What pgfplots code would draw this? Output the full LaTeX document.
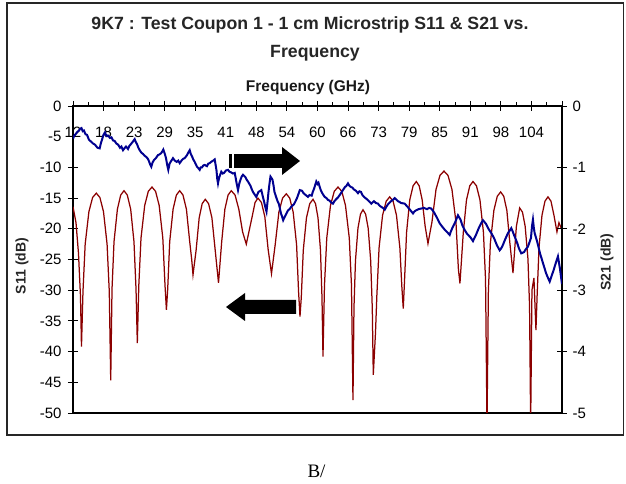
\documentclass[border=0pt]{standalone}
\usepackage{pgfplots}
\pgfplotsset{compat=1.18}
\usepackage{fontspec}
\setmainfont{Liberation Sans}
\newfontfamily\timesfont{Liberation Serif}
\definecolor{sred}{HTML}{8B0000}
\definecolor{sblue}{HTML}{000090}
\pgfplotstableread{
f v
12.00 -16.4
12.60 -19.0
13.10 -24.0
13.50 -31.0
13.70 -39.2
14.00 -30.2
14.44 -22.5
15.19 -17.2
15.93 -14.9
16.67 -14.2
17.39 -14.9
18.11 -17.2
18.83 -22.5
19.27 -30.2
19.56 -44.7
19.82 -29.8
20.22 -22.1
20.90 -16.8
21.56 -14.5
22.22 -13.8
22.88 -14.5
23.56 -16.8
24.22 -22.1
24.63 -29.8
24.89 -38.6
25.19 -29.2
25.63 -21.5
26.37 -16.2
27.09 -13.9
27.83 -13.2
28.55 -13.9
29.27 -16.2
30.00 -21.5
30.44 -29.2
30.72 -33.2
30.98 -29.8
31.38 -22.1
32.06 -16.8
32.72 -14.5
33.38 -13.8
34.04 -14.5
34.73 -16.8
35.39 -22.1
35.79 -25.0
36.05 -27.5
36.67 -23.5
37.29 -18.2
37.89 -15.9
38.51 -15.2
39.17 -15.9
39.84 -18.2
40.50 -23.5
41.16 -28.8
41.80 -22.1
42.44 -16.8
43.08 -14.5
43.72 -13.8
44.48 -14.5
45.23 -16.8
45.99 -20.5
46.73 -22.5
47.91 -18.0
48.49 -15.7
49.07 -15.0
49.76 -15.7
50.44 -18.0
51.10 -23.3
51.78 -27.3
52.52 -22.6
53.26 -17.3
54.00 -15.0
54.75 -14.3
55.43 -15.0
56.13 -17.3
56.81 -22.6
57.21 -30.3
57.49 -34.3
57.75 -31.2
58.15 -23.5
58.79 -18.2
59.45 -15.9
60.10 -15.2
60.60 -15.9
61.10 -18.2
61.60 -23.5
61.90 -31.2
62.10 -40.8
62.40 -29.2
62.86 -21.5
63.60 -16.2
64.36 -13.9
65.11 -13.2
65.87 -13.9
66.61 -16.2
67.37 -21.5
67.81 -29.2
68.11 -47.9
68.31 -32.9
68.61 -25.2
69.11 -19.9
69.62 -17.6
70.12 -16.9
70.64 -17.6
71.16 -19.9
71.66 -25.2
71.98 -32.9
72.18 -43.8
72.62 -37.0
72.90 -30.8
73.34 -23.1
74.04 -17.8
74.77 -15.5
75.47 -14.8
76.15 -15.5
76.83 -17.8
77.51 -23.1
77.91 -29.5
78.19 -33.0
78.45 -28.3
78.85 -20.6
79.49 -15.3
80.16 -13.0
80.80 -12.3
81.38 -13.0
81.98 -15.3
82.56 -19.5
83.14 -22.4
83.94 -18.9
84.75 -13.6
85.55 -11.3
86.35 -10.6
87.15 -11.3
87.95 -13.6
88.75 -18.9
89.24 -26.6
89.55 -28.9
90.22 -20.6
90.86 -15.3
91.52 -13.0
92.16 -12.3
92.86 -13.0
93.56 -15.3
94.26 -20.6
94.68 -28.3
94.97 -52.0
95.25 -30.0
95.65 -22.3
96.35 -17.0
97.03 -14.7
97.71 -14.0
98.33 -14.7
98.95 -17.0
99.55 -22.3
100.18 -27.2
100.86 -19.6
101.52 -16.6
102.08 -17.3
102.62 -19.6
103.18 -24.9
103.50 -32.6
103.72 -52.0
103.98 -30.0
104.38 -28.0
104.78 -36.5
105.02 -30.8
105.39 -23.1
105.99 -17.8
106.59 -15.5
107.19 -14.8
107.79 -15.5
108.39 -17.8
108.99 -20.5
109.39 -19.0
110.00 -20.2
}\sone
\pgfplotstableread{
f v
12.00 -0.53
12.30 -0.48
12.60 -0.45
12.90 -0.42
13.20 -0.40
13.45 -0.37
13.70 -0.36
13.95 -0.41
14.20 -0.40
14.50 -0.46
14.81 -0.47
15.20 -0.55
15.61 -0.58
16.00 -0.61
16.41 -0.63
16.90 -0.68
17.35 -0.69
17.60 -0.60
17.81 -0.55
18.10 -0.47
18.41 -0.43
18.70 -0.49
19.01 -0.48
19.41 -0.52
19.70 -0.51
20.02 -0.56
20.35 -0.57
20.68 -0.61
21.05 -0.63
21.42 -0.68
21.70 -0.66
22.02 -0.72
22.30 -0.69
22.62 -0.66
23.02 -0.70
23.30 -0.65
23.62 -0.62
24.00 -0.58
24.36 -0.54
24.60 -0.59
24.83 -0.62
25.10 -0.68
25.37 -0.72
25.70 -0.76
26.03 -0.78
26.35 -0.81
26.69 -0.83
27.00 -0.86
27.23 -0.90
27.45 -0.95
27.69 -0.99
27.95 -0.92
28.23 -0.88
28.60 -0.85
29.03 -0.80
29.30 -0.79
29.64 -0.77
29.90 -0.74
30.10 -0.71
30.40 -0.78
30.64 -0.85
30.90 -0.97
31.10 -1.04
31.35 -0.94
31.64 -0.90
32.04 -0.85
32.40 -0.89
32.78 -0.91
33.10 -0.89
33.38 -0.93
33.84 -0.88
34.10 -0.86
34.38 -0.85
34.85 -0.80
35.10 -0.76
35.39 -0.72
35.60 -0.78
35.85 -0.82
36.10 -0.87
36.39 -0.91
36.85 -0.99
37.10 -1.01
37.39 -1.04
37.60 -1.00
37.85 -1.00
38.10 -0.97
38.39 -0.96
38.85 -0.98
39.10 -0.94
39.39 -0.93
39.86 -0.90
40.10 -0.89
40.40 -0.87
40.60 -0.97
40.76 -1.05
40.90 -1.18
41.06 -1.26
41.20 -1.20
41.36 -1.15
41.72 -1.07
42.00 -1.10
42.26 -1.09
42.66 -1.05
43.06 -1.04
43.35 -1.07
43.66 -1.08
44.05 -1.10
44.41 -1.09
44.60 -1.17
44.77 -1.25
45.07 -1.37
45.30 -1.27
45.57 -1.20
45.80 -1.15
46.07 -1.12
46.57 -1.16
46.80 -1.20
47.07 -1.23
47.57 -1.30
47.80 -1.35
48.07 -1.40
48.40 -1.44
48.73 -1.48
49.17 -1.40
49.74 -1.37
50.00 -1.46
50.28 -1.55
50.55 -1.65
50.78 -1.72
51.00 -1.55
51.18 -1.40
51.40 -1.25
51.58 -1.15
51.98 -1.20
52.20 -1.30
52.38 -1.40
52.78 -1.50
53.00 -1.55
53.28 -1.60
53.68 -1.75
53.90 -1.80
54.12 -1.86
54.35 -1.82
54.59 -1.78
55.09 -1.70
55.40 -1.68
55.75 -1.64
56.29 -1.60
56.60 -1.55
56.89 -1.50
57.20 -1.43
57.45 -1.37
57.89 -1.38
58.20 -1.42
58.49 -1.44
59.09 -1.48
59.40 -1.45
59.84 -1.46
60.05 -1.40
60.30 -1.35
60.76 -1.23
61.00 -1.27
61.20 -1.25
61.45 -1.32
61.70 -1.38
62.10 -1.44
62.44 -1.48
62.80 -1.50
63.10 -1.53
63.40 -1.54
63.70 -1.57
64.10 -1.59
64.40 -1.55
64.71 -1.52
65.10 -1.49
65.45 -1.45
65.70 -1.42
66.01 -1.38
66.51 -1.32
66.80 -1.30
67.11 -1.26
67.40 -1.30
67.71 -1.32
68.00 -1.33
68.31 -1.36
68.70 -1.38
69.11 -1.42
69.40 -1.39
69.72 -1.40
70.00 -1.45
70.32 -1.48
70.92 -1.52
71.30 -1.55
71.78 -1.59
72.32 -1.55
72.70 -1.58
73.12 -1.59
73.40 -1.62
73.72 -1.64
74.10 -1.66
74.47 -1.69
74.80 -1.64
75.13 -1.60
75.73 -1.55
76.10 -1.53
76.47 -1.50
77.13 -1.55
77.40 -1.56
77.73 -1.58
78.47 -1.59
78.80 -1.62
79.13 -1.65
79.64 -1.70
80.14 -1.75
80.40 -1.72
80.74 -1.70
81.24 -1.68
81.80 -1.67
82.34 -1.66
82.94 -1.68
83.40 -1.66
83.80 -1.67
84.34 -1.73
84.95 -1.82
85.49 -1.91
85.95 -1.96
86.55 -2.02
87.05 -2.06
87.49 -2.10
87.70 -2.05
87.95 -2.00
88.55 -1.90
89.15 -1.78
89.66 -1.85
90.06 -1.95
90.50 -2.02
90.96 -2.08
91.66 -2.14
92.16 -2.20
92.45 -2.15
92.76 -2.10
93.36 -1.98
93.80 -1.91
94.16 -1.86
94.77 -1.92
95.27 -2.00
95.83 -2.07
96.37 -2.15
96.97 -2.27
97.51 -2.35
97.80 -2.32
98.07 -2.28
98.57 -2.18
99.17 -2.07
99.84 -1.99
100.10 -2.04
100.38 -2.10
100.98 -2.22
101.38 -2.32
101.84 -2.40
102.38 -2.38
102.78 -2.33
103.18 -2.29
103.78 -2.15
104.00 -1.95
104.18 -1.85
104.35 -1.98
104.52 -2.07
104.99 -2.20
105.30 -2.30
105.59 -2.40
105.90 -2.48
106.19 -2.56
106.50 -2.64
106.79 -2.72
107.20 -2.80
107.53 -2.86
107.99 -2.75
108.30 -2.68
108.59 -2.60
108.90 -2.52
109.19 -2.45
109.59 -2.65
110.00 -2.90
}\stwo
\begin{document}
\begin{tikzpicture}
\useasboundingbox (0bp,0bp) rectangle (626bp,484bp);
\draw[line width=1.3bp, black!85] (7bp,49bp) rectangle (623.5bp,481bp);
\begin{axis}[
  at={(73bp,71bp)}, anchor=south west,
  scale only axis, width=489bp, height=307bp,
  xmin=12, xmax=110, ymin=-50, ymax=0,
  axis line style={line width=1.1bp, black},
  tick style={black, line width=0.9bp},
  tick align=center,
  major tick length=10bp, minor tick length=3.5bp,
  minor tick style={yshift=1.75bp},
  xtick pos=right, xticklabel pos=right,
  ytick pos=left, yticklabel pos=left,
  xtick={12,18.125,24.25,30.375,36.5,42.625,48.75,54.875,61,67.125,73.25,79.375,85.5,91.625,97.75,103.875,110},
  xticklabels={12,18,23,29,35,41,48,54,60,66,73,79,85,91,98,104,{}},
  minor x tick num=1,
  ytick={-50,-45,-40,-35,-30,-25,-20,-15,-10,-5,0},
  yticklabels={-50,-45,-40,-35,-30,-25,-20,-15,-10,-5,0},
  tick label style={font=\fontsize{15bp}{18bp}\selectfont, black},
  xticklabel style={anchor=north, yshift=-23bp},
  yticklabel style={xshift=-3bp},
]
\addplot[sred, line width=1.25bp] table[x=f, y=v] {\sone};
\end{axis}
\begin{axis}[
  at={(73bp,71bp)}, anchor=south west,
  scale only axis, width=489bp, height=307bp,
  xmin=12, xmax=110, ymin=-5, ymax=0,
  axis x line=none, axis y line*=right,
  axis line style={line width=1.1bp, black},
  tick style={black, line width=0.9bp},
  tick align=center,
  major tick length=10bp,
  ytick={-5,-4,-3,-2,-1,0},
  yticklabels={-5,-4,-3,-2,-1,0},
  tick label style={font=\fontsize{15bp}{18bp}\selectfont, black},
  yticklabel style={xshift=2bp},
]
\addplot[sblue, line width=2bp] table[x=f, y=v] {\stwo};
\end{axis}
% block arrows
\fill[black] (229bp,316bp) rectangle (232bp,330bp);
\fill[black] (234bp,316bp) rectangle (283bp,330bp);
\fill[black] (282bp,309bp) -- (300bp,323bp) -- (282bp,337bp) -- cycle;
\fill[black] (226bp,177bp) -- (245bp,191bp) -- (245bp,184bp) -- (296bp,184bp) -- (296bp,170bp) -- (245bp,170bp) -- (245bp,163bp) -- cycle;
% titles
\node[font=\fontsize{17.7bp}{21bp}\selectfont\bfseries, text=black!85] at (310bp,459bp) {9K7 : Test Coupon 1 - 1 cm Microstrip S11 \& S21 vs.};
\node[font=\fontsize{17.7bp}{21bp}\selectfont\bfseries, text=black!85] at (315bp,431bp) {Frequency};
\node[font=\fontsize{15.5bp}{18bp}\selectfont\bfseries, text=black!90] at (308bp,397bp) {Frequency (GHz)};
\node[font=\fontsize{14bp}{17bp}\selectfont\bfseries, text=black!85, rotate=90] at (22bp,218bp) {S11 (dB)};
\node[font=\fontsize{14bp}{17bp}\selectfont\bfseries, text=black!85, rotate=90] at (607bp,222bp) {S21 (dB)};
\node[font=\timesfont\fontsize{19bp}{22bp}\selectfont] at (316.5bp,12.5bp) {B/};
\end{tikzpicture}
\end{document}
